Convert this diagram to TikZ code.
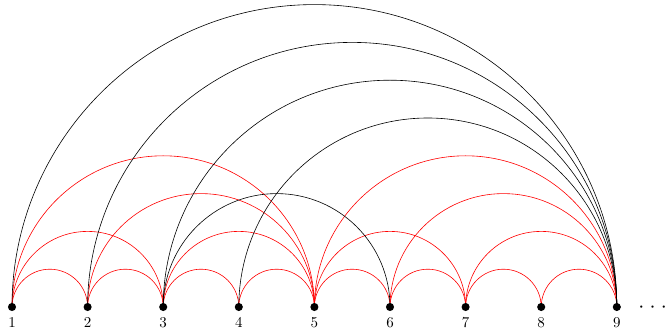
\documentclass[tikz,border=0pt]{standalone}
\begin{document}
\begin{tikzpicture}[x=0.6667pt,y=0.6667pt,
  dot/.style={circle,fill=black,inner sep=0pt,minimum size=5.4pt},
  redarc/.style={red,line width=0.4pt},
  blackarc/.style={black,line width=0.4pt}]
\useasboundingbox (0,0) rectangle (665,335);
\foreach \i in {1,...,9} {
  \coordinate (p\i) at ({12+75.6*(\i-1)},28);
}
% red arcs
\foreach \a/\b in {1/2,2/3,3/4,4/5,5/6,6/7,7/8,8/9,1/3,3/5,5/7,7/9,1/5,2/5,5/9,6/9} {
  \draw[redarc] (p\a) arc[start angle=180,end angle=0,radius={37.8*(\b-\a)}];
}
% black arcs
\foreach \a/\b in {1/9,2/9,3/9,4/9,3/6} {
  \draw[blackarc] (p\a) arc[start angle=180,end angle=0,radius={37.8*(\b-\a)}];
}
\foreach \i in {1,...,9} {
  \node[dot,label={[inner sep=0pt,label distance=4pt]below:\i}] (n\i) at (p\i) {};
}
\node[anchor=base west,inner sep=0pt,font=\Large] (dots) at (638,22.6) {$\cdot\hspace{3.5pt}{\cdot}\hspace{3.5pt}{\cdot}$};
\end{tikzpicture}
\end{document}
